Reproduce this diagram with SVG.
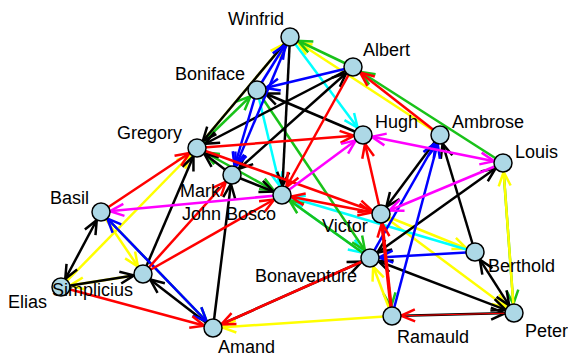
<svg xmlns="http://www.w3.org/2000/svg" width="568" height="356" viewBox="0 0 568 356">
<style>
.e line{stroke-width:2.5;fill:none}
.k{stroke:#000}.r{stroke:#ff0000}.b{stroke:#0000ff}.g{stroke:#19c219}.y{stroke:#ffff00}.m{stroke:#ff00ff}.c{stroke:#00ffff}
.n circle{fill:#add8e6;stroke:#000;stroke-width:1.5}
.n text{font-family:"Liberation Sans",Arial,sans-serif;font-size:18px;fill:#000}
</style>
<defs>
<marker id="mk" markerUnits="userSpaceOnUse" refX="9" refY="0" orient="auto-start-reverse" style="overflow:visible"><path d="M-14,-6L0,0L-14,6" fill="none" stroke="#000" stroke-width="2.5"/></marker>
<marker id="mr" markerUnits="userSpaceOnUse" refX="9" refY="0" orient="auto-start-reverse" style="overflow:visible"><path d="M-14,-6L0,0L-14,6" fill="none" stroke="#ff0000" stroke-width="2.5"/></marker>
<marker id="mb" markerUnits="userSpaceOnUse" refX="9" refY="0" orient="auto-start-reverse" style="overflow:visible"><path d="M-14,-6L0,0L-14,6" fill="none" stroke="#0000ff" stroke-width="2.5"/></marker>
<marker id="mg" markerUnits="userSpaceOnUse" refX="9" refY="0" orient="auto-start-reverse" style="overflow:visible"><path d="M-14,-6L0,0L-14,6" fill="none" stroke="#19c219" stroke-width="2.5"/></marker>
<marker id="my" markerUnits="userSpaceOnUse" refX="9" refY="0" orient="auto-start-reverse" style="overflow:visible"><path d="M-14,-6L0,0L-14,6" fill="none" stroke="#ffff00" stroke-width="2.5"/></marker>
<marker id="mm" markerUnits="userSpaceOnUse" refX="9" refY="0" orient="auto-start-reverse" style="overflow:visible"><path d="M-14,-6L0,0L-14,6" fill="none" stroke="#ff00ff" stroke-width="2.5"/></marker>
<marker id="mc" markerUnits="userSpaceOnUse" refX="9" refY="0" orient="auto-start-reverse" style="overflow:visible"><path d="M-14,-6L0,0L-14,6" fill="none" stroke="#00ffff" stroke-width="2.5"/></marker>
</defs>
<g id="edges" class="e">
<!-- underlying edges -->
<line class="g" x1="503" y1="163" x2="514" y2="313" marker-end="url(#mg)"/>
<line class="g" x1="381" y1="214" x2="392" y2="316" marker-end="url(#mg)"/>
<line class="g" x1="101" y1="212" x2="213" y2="328" marker-end="url(#mg)"/>
<line class="c" x1="282" y1="195" x2="370" y2="258" marker-end="url(#mc)"/>
<line class="y" x1="143" y1="274" x2="61" y2="287" marker-end="url(#my)"/>
<line class="k" x1="213" y1="328" x2="370" y2="258" marker-end="url(#mk)"/>
<!-- yellow -->
<line class="y" x1="440" y1="135" x2="290" y2="37" marker-end="url(#my)"/>
<line class="y" x1="197" y1="148" x2="290" y2="37" marker-end="url(#my)"/>
<line class="y" x1="61" y1="287" x2="197" y2="148" marker-end="url(#my)"/>
<line class="y" x1="101" y1="212" x2="143" y2="274" marker-end="url(#my)"/>
<line class="y" x1="392" y1="316" x2="213" y2="328" marker-end="url(#my)"/>
<line class="y" x1="392" y1="316" x2="370" y2="258" marker-end="url(#my)"/>
<line class="y" x1="381" y1="214" x2="475" y2="252" marker-end="url(#my)"/>
<line class="y" x1="381" y1="214" x2="514" y2="313" marker-end="url(#my)"/>
<line class="y" x1="514" y1="313" x2="503" y2="163" marker-end="url(#my)"/>
<!-- cyan -->
<line class="c" x1="290" y1="37" x2="363" y2="135" marker-end="url(#mc)"/>
<line class="c" x1="257" y1="90" x2="282" y2="195" marker-end="url(#mc)"/>
<line class="c" x1="475" y1="252" x2="282" y2="195" marker-end="url(#mc)"/>
<!-- green -->
<line class="g" x1="353" y1="67" x2="290" y2="37" marker-end="url(#mg)"/>
<line class="g" x1="503" y1="163" x2="353" y2="67" marker-end="url(#mg)"/>
<line class="g" x1="197" y1="148" x2="257" y2="90" marker-end="url(#mg)"/>
<line class="g" x1="197" y1="148" x2="282" y2="195" marker-start="url(#mg)" marker-end="url(#mg)"/>
<line class="g" x1="257" y1="90" x2="370" y2="258" marker-end="url(#mg)"/>
<line class="g" x1="370" y1="258" x2="282" y2="195" marker-end="url(#mg)"/>
<!-- black -->
<line class="k" x1="290" y1="37" x2="197" y2="148" marker-end="url(#mk)"/>
<line class="k" x1="353" y1="67" x2="197" y2="148" marker-end="url(#mk)"/>
<line class="k" x1="232" y1="175" x2="353" y2="67" marker-start="url(#mk)" marker-end="url(#mk)"/>
<line class="k" x1="363" y1="135" x2="257" y2="90" marker-end="url(#mk)"/>
<line class="k" x1="290" y1="37" x2="282" y2="195" marker-end="url(#mk)"/>
<line class="k" x1="213" y1="328" x2="232" y2="175" marker-end="url(#mk)"/>
<line class="k" x1="143" y1="274" x2="197" y2="148" marker-end="url(#mk)"/>
<line class="k" x1="61" y1="287" x2="143" y2="274" marker-end="url(#mk)"/>
<line class="k" x1="101" y1="212" x2="61" y2="287" marker-start="url(#mk)" marker-end="url(#mk)"/>
<line class="k" x1="213" y1="328" x2="143" y2="274" marker-end="url(#mk)"/>
<line class="k" x1="232" y1="175" x2="197" y2="148" marker-end="url(#mk)"/>
<line class="k" x1="232" y1="175" x2="282" y2="195" marker-end="url(#mk)"/>
<line class="k" x1="440" y1="135" x2="381" y2="214" marker-end="url(#mk)"/>
<line class="k" x1="370" y1="258" x2="503" y2="163" marker-start="url(#mk)" marker-end="url(#mk)"/>
<line class="k" x1="475" y1="252" x2="440" y2="135" marker-end="url(#mk)"/>
<line class="k" x1="475" y1="252" x2="514" y2="313" marker-start="url(#mk)" marker-end="url(#mk)"/>
<line class="k" x1="370" y1="258" x2="514" y2="313" marker-start="url(#mk)" marker-end="url(#mk)"/>
<line class="k" x1="392" y1="316" x2="514" y2="313" marker-end="url(#mk)"/>
<!-- blue -->
<line class="b" x1="353" y1="67" x2="257" y2="90" marker-end="url(#mb)"/>
<line class="b" x1="290" y1="37" x2="232" y2="175" marker-end="url(#mb)"/>
<line class="b" x1="257" y1="90" x2="232" y2="175" marker-end="url(#mb)"/>
<line class="b" x1="257" y1="90" x2="290" y2="37" marker-end="url(#mb)"/>
<line class="b" x1="101" y1="212" x2="213" y2="328" marker-start="url(#mb)" marker-end="url(#mb)"/>
<line class="b" x1="392" y1="316" x2="440" y2="135" marker-end="url(#mb)"/>
<line class="b" x1="370" y1="258" x2="440" y2="135" marker-end="url(#mb)"/>
<line class="b" x1="475" y1="252" x2="370" y2="258" marker-end="url(#mb)"/>
<!-- red -->
<line class="r" x1="440" y1="135" x2="353" y2="67" marker-end="url(#mr)"/>
<line class="r" x1="101" y1="212" x2="197" y2="148" marker-end="url(#mr)"/>
<line class="r" x1="143" y1="274" x2="232" y2="175" marker-end="url(#mr)"/>
<line class="r" x1="143" y1="274" x2="282" y2="195" marker-end="url(#mr)"/>
<line class="r" x1="61" y1="287" x2="213" y2="328" marker-end="url(#mr)"/>
<line class="r" x1="370" y1="258" x2="213" y2="328" marker-end="url(#mr)"/>
<line class="r" x1="197" y1="148" x2="363" y2="135" marker-end="url(#mr)"/>
<line class="r" x1="353" y1="67" x2="282" y2="195" marker-end="url(#mr)"/>
<line class="r" x1="381" y1="214" x2="363" y2="135" marker-end="url(#mr)"/>
<line class="r" x1="197" y1="148" x2="381" y2="214" marker-end="url(#mr)"/>
<line class="r" x1="282" y1="195" x2="381" y2="214" marker-start="url(#mr)" marker-end="url(#mr)"/>
<line class="r" x1="392" y1="316" x2="381" y2="214" marker-end="url(#mr)" style="stroke-width:3.5"/>
<line class="r" x1="514" y1="313" x2="392" y2="316" marker-end="url(#mr)" style="stroke-width:1"/>
<!-- magenta -->
<line class="m" x1="282" y1="195" x2="101" y2="212" marker-end="url(#mm)"/>
<line class="m" x1="363" y1="135" x2="503" y2="163" marker-start="url(#mm)" marker-end="url(#mm)"/>
<line class="m" x1="503" y1="163" x2="381" y2="214" marker-end="url(#mm)"/>
<line class="m" x1="282" y1="195" x2="363" y2="135" marker-end="url(#mm)"/>
</g>
<g id="n-winfrid" class="n"><circle cx="290" cy="37" r="9"/><text x="228" y="25">Winfrid</text></g>
<g id="n-albert" class="n"><circle cx="353" cy="67" r="9"/><text x="363" y="56">Albert</text></g>
<g id="n-boniface" class="n"><circle cx="257" cy="90" r="9"/><text x="175" y="80">Boniface</text></g>
<g id="n-gregory" class="n"><circle cx="197" cy="148" r="9"/><text x="117" y="139">Gregory</text></g>
<g id="n-mark" class="n"><circle cx="232" cy="175" r="9"/><text x="180" y="197">Mark</text></g>
<g id="n-johnbosco" class="n"><circle cx="282" cy="195" r="9"/><text x="182" y="220">John Bosco</text></g>
<g id="n-basil" class="n"><circle cx="101" cy="212" r="9"/><text x="50" y="204">Basil</text></g>
<g id="n-hugh" class="n"><circle cx="363" cy="135" r="9"/><text x="375" y="128">Hugh</text></g>
<g id="n-ambrose" class="n"><circle cx="440" cy="135" r="9"/><text x="452" y="128">Ambrose</text></g>
<g id="n-louis" class="n"><circle cx="503" cy="163" r="9"/><text x="515" y="158">Louis</text></g>
<g id="n-victor" class="n"><circle cx="381" cy="214" r="9"/><text x="322" y="232">Victor</text></g>
<g id="n-elias" class="n"><circle cx="61" cy="287" r="9"/><text x="8" y="308">Elias</text></g>
<g id="n-simplicius" class="n"><circle cx="143" cy="274" r="9"/><text x="52" y="296">Simplicius</text></g>
<g id="n-amand" class="n"><circle cx="213" cy="328" r="9"/><text x="218" y="353">Amand</text></g>
<g id="n-bonaventure" class="n"><circle cx="370" cy="258" r="9"/><text x="255" y="282">Bonaventure</text></g>
<g id="n-berthold" class="n"><circle cx="475" cy="252" r="9"/><text x="488" y="272">Berthold</text></g>
<g id="n-ramauld" class="n"><circle cx="392" cy="316" r="9"/><text x="397" y="343">Ramauld</text></g>
<g id="n-peter" class="n"><circle cx="514" cy="313" r="9"/><text x="525" y="337">Peter</text></g>
</svg>
